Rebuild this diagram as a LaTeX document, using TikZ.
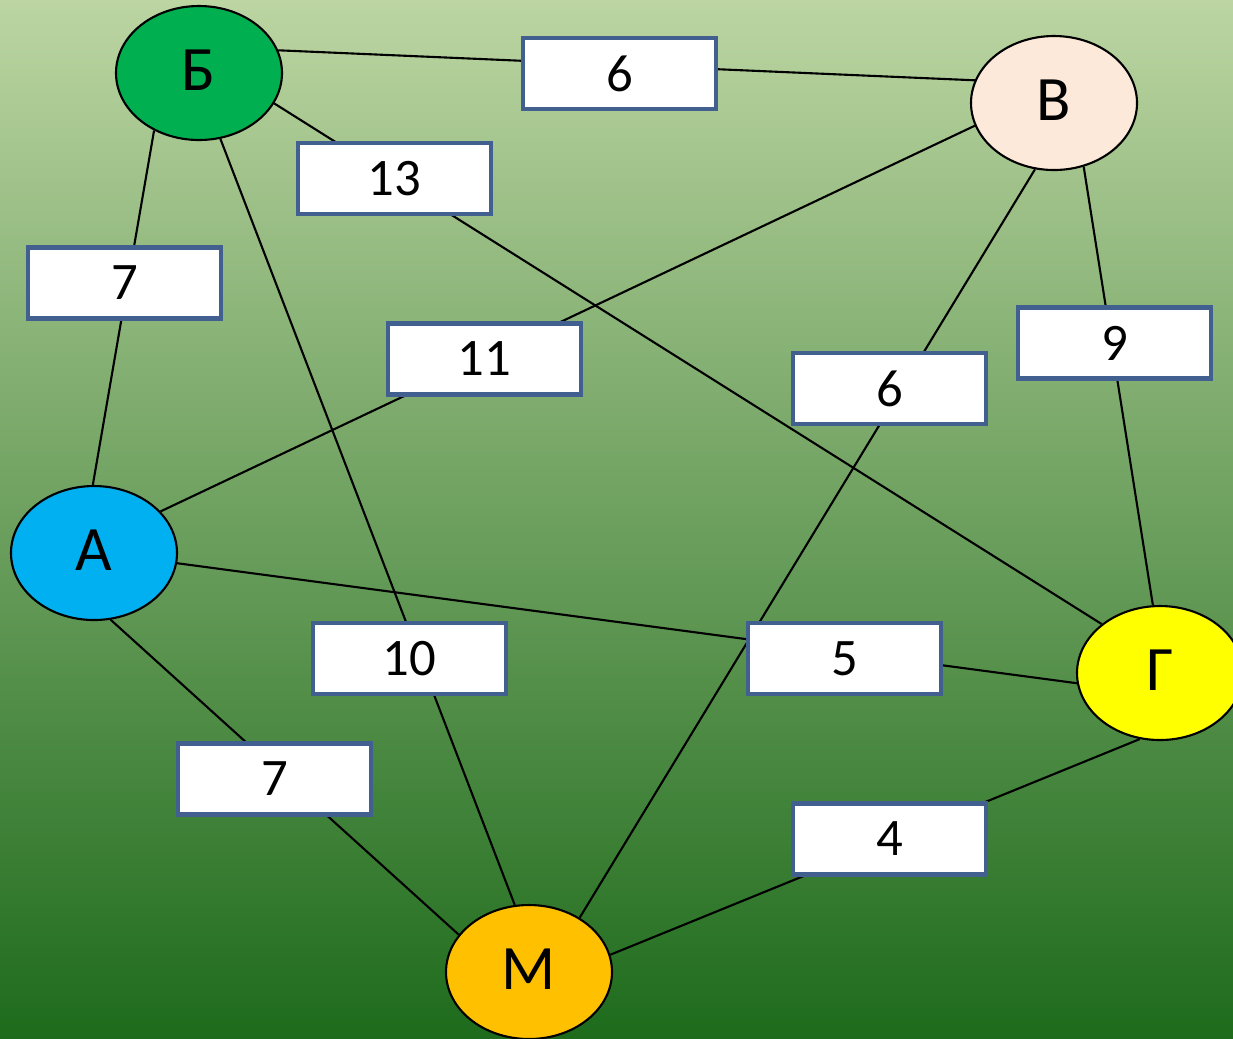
\documentclass[tikz,border=0pt]{standalone}
\usepackage{fontspec}
\setmainfont{Carlito}
\usetikzlibrary{shapes.geometric}
\pgfdeclarelayer{background}
\pgfdeclarelayer{edges}
\pgfsetlayers{background,edges,main}
\definecolor{bgtop}{HTML}{BCD5A2}
\definecolor{bgmid}{HTML}{8AB069}
\definecolor{bgbot}{HTML}{1E6B1C}
\definecolor{boxblue}{HTML}{41608F}
\definecolor{colB}{HTML}{00B050}
\definecolor{colV}{HTML}{FCE9DA}
\definecolor{colA}{HTML}{00B0F0}
\definecolor{colG}{HTML}{FFFF00}
\definecolor{colM}{HTML}{FFC000}
\tikzset{
	vertex/.style={ellipse, draw=black, line width=0.6pt, minimum width=1.66cm, minimum height=1.34cm, inner sep=0pt, font=\fontsize{18}{21}\selectfont},
	weight/.style={rectangle, draw=boxblue, fill=white, line width=1.3pt, minimum width=1.93cm, minimum height=0.71cm, inner sep=0pt, font=\fontsize{15}{18}\selectfont},
	edge/.style={line width=0.6pt}
}
\begin{document}
\begin{tikzpicture}
					\useasboundingbox (0,0) rectangle (12.33,-10.38);
					\clip (0,0) rectangle (12.33,-10.38);
					
					% Background
					\begin{pgfonlayer}{background}
						\shade[top color=bgtop, middle color=bgmid, bottom color=bgbot] (0,0) rectangle (12.33,-10.38);
					\end{pgfonlayer}
					
					% Vertices
					\node[vertex, fill=colB] (B) at (1.99,-0.73) {\raisebox{1.5pt}{Б}};
					\node[vertex, fill=colV] (V) at (10.54,-1.03) {\raisebox{1.5pt}{В}};
					\node[vertex, fill=colA] (A) at (0.94,-5.53) {\raisebox{1.5pt}{А}};
					\node[vertex, fill=colG] (G) at (11.60,-6.73) {\raisebox{1.5pt}{Г}};
					\node[vertex, fill=colM] (M) at (5.29,-9.72) {\raisebox{1.5pt}{М}};
					
					% Weights
					\node[weight] (wBV) at (6.195,-0.735) {6};
					\node[weight] (wBG) at (3.945,-1.785) {13};
					\node[weight] (wBA) at (1.245,-2.83) {7};
					\node[weight] (wVA) at (4.845,-3.59) {11};
					\node[weight] (wVM) at (8.895,-3.885) {6};
					\node[weight] (wVG) at (11.145,-3.43) {9};
					\node[weight] (wBM) at (4.095,-6.585) {10};
					\node[weight] (wAG) at (8.445,-6.585) {5};
					\node[weight] (wAM) at (2.745,-7.79) {7};
					\node[weight] (wGM) at (8.895,-8.39) {4};
					
					% Edges
					\begin{pgfonlayer}{edges}
						\draw[edge] (B.16) -- (V.164);
						\draw[edge] (B.-22) -- (G.140);
						\draw[edge] (B.232) -- (A.91);
						\draw[edge] (B.-72) -- (M.102);
						\draw[edge] (V.196) -- (A.32);
						\draw[edge] (V.254) -- (M.47);
						\draw[edge] (V.-65) -- (G.96);
						\draw[edge] (A.-7) -- (G.187);
						\draw[edge] (A.-76) -- (M.152);
						\draw[edge] (G.253) -- (M.12);
					\end{pgfonlayer}
				\end{tikzpicture}
\end{document}
